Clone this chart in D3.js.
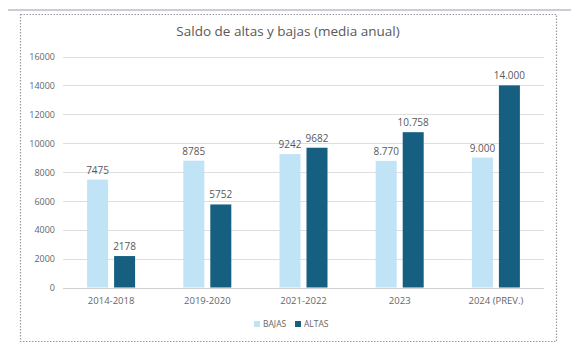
<!DOCTYPE html>
<html>
<head>
<meta charset="utf-8">
<script src="https://cdn.jsdelivr.net/npm/d3@7"></script>
<style>
  html, body { margin: 0; padding: 0; background: #fff; }
  svg { display: block; }
  text { font-family: "Open Sans", "Noto Sans", sans-serif; }
</style>
</head>
<body>
<div id="chart"></div>
<script>
const categories = ["2014-2018", "2019-2020", "2021-2022", "2023", "2024 (PREV.)"];
const seriesNames = ["BAJAS", "ALTAS"];
const bajas = [7475, 8785, 9242, 8770, 9000];
const altas = [2178, 5752, 9682, 10758, 14000];
const bajasLabels = ["7475", "8785", "9242", "8.770", "9.000"];
const altasLabels = ["2178", "5752", "9682", "10.758", "14.000"];
const yTicks = [0, 2000, 4000, 6000, 8000, 10000, 12000, 14000, 16000];
const title = "Saldo de altas y bajas (media anual)";

const W = 571, H = 355;
const colors = { BAJAS: "#c0e4f5", ALTAS: "#175f80" };
const textColor = "#595959";

const svg = d3.select("#chart").append("svg").attr("width", W).attr("height", H);

// top separator line
svg.append("line").attr("x1", 8).attr("x2", 571).attr("y1", 10).attr("y2", 10)
  .attr("stroke", "#b9bccb").attr("stroke-width", 1.5);

// dotted chart border
svg.append("rect").attr("x", 20.5).attr("y", 14.5).attr("width", 536).attr("height", 327)
  .attr("fill", "none").attr("stroke", "#9a9a9a").attr("stroke-width", 1.2)
  .attr("stroke-dasharray", "1.5,1.5");

const x0 = d3.scaleBand().domain(categories).range([63, 544]).padding(0);
const x1 = d3.scaleBand().domain(seriesNames).paddingInner(0.222).paddingOuter(0);
const y = d3.scaleLinear().domain([0, 16000]).range([287.5, 56.5]);

// gridlines
svg.append("g").selectAll("line").data(yTicks).join("line")
  .attr("x1", 63).attr("x2", 544)
  .attr("y1", d => Math.round(y(d)) + 0.5).attr("y2", d => Math.round(y(d)) + 0.5)
  .attr("stroke", d => d === 0 ? "#d0d0d0" : "#dedede").attr("stroke-width", 1);

// y axis
const yAxis = d3.axisLeft(y).tickValues(yTicks).tickFormat(d3.format("d")).tickSize(0).tickPadding(0);
const gy = svg.append("g").attr("transform", "translate(55,0)").call(yAxis);
gy.select(".domain").remove();
gy.selectAll("text").attr("fill", "#666").attr("font-size", 9).attr("dy", "0.35em");

// x axis
const xAxis = d3.axisBottom(x0).tickSize(0).tickPadding(0);
const gx = svg.append("g").attr("transform", "translate(0,297)").call(xAxis);
gx.select(".domain").remove();
gx.selectAll("text").attr("fill", "#666").attr("font-size", 9.5).attr("dy", "0.71em");

// bars
const rows = categories.map((c, i) => ({ cat: c, vals: [
  { s: "BAJAS", v: bajas[i], label: bajasLabels[i] },
  { s: "ALTAS", v: altas[i], label: altasLabels[i] }
]}));

const groups = svg.append("g").selectAll("g").data(rows).join("g")
  .attr("transform", d => `translate(${x0(d.cat)},0)`);

const bw = x0.bandwidth();
x1.range([bw / 2 - 24, bw / 2 + 24]);

groups.selectAll("rect").data(d => d.vals).join("rect")
  .attr("x", d => x1(d.s)).attr("width", x1.bandwidth())
  .attr("y", d => y(d.v)).attr("height", d => y(0) - y(d.v))
  .attr("fill", d => colors[d.s]);

groups.selectAll("text.val").data(d => d.vals).join("text")
  .attr("class", "val")
  .attr("x", d => x1(d.s) + x1.bandwidth() / 2)
  .attr("y", d => y(d.v) - 6)
  .attr("text-anchor", "middle").attr("font-size", 10).attr("fill", textColor)
  .text(d => d.label);

// title
svg.append("text").attr("x", 288).attr("y", 36).attr("text-anchor", "middle")
  .attr("font-size", 13.5).attr("fill", textColor).text(title);

// legend
const legend = svg.append("g");
const legendItems = [{ s: "BAJAS", x: 254 }, { s: "ALTAS", x: 295 }];
legendItems.forEach(it => {
  legend.append("rect").attr("x", it.x).attr("y", 321).attr("width", 6).attr("height", 6)
    .attr("fill", colors[it.s]);
  legend.append("text").attr("x", it.x + 9).attr("y", 327).attr("font-size", 8.5)
    .attr("fill", "#666").text(it.s);
});
</script>
</body>
</html>
